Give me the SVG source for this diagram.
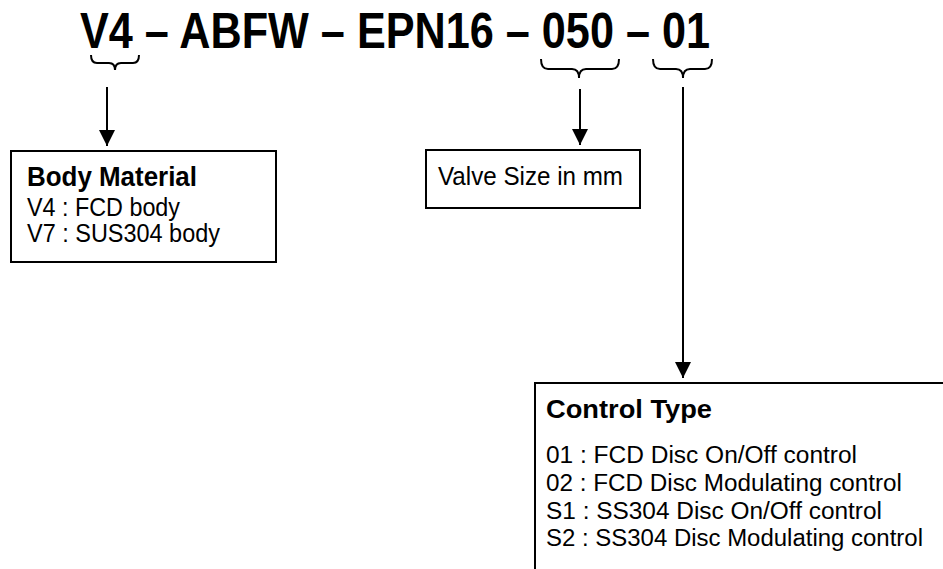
<svg xmlns="http://www.w3.org/2000/svg" width="943" height="569" viewBox="0 0 943 569">
  <defs>
    <style>
      .box { fill: #fff; stroke: #000; stroke-width: 2; }
      .t { font-family: "Liberation Sans", Arial, sans-serif; fill: #000; }
      .b { font-weight: bold; }
      .conn { fill: none; stroke: #000; stroke-width: 2; }
      .brace { fill: none; stroke: #000; stroke-width: 2; }
    </style>
    <marker id="ah" markerUnits="userSpaceOnUse" markerWidth="16" markerHeight="16" viewBox="0 0 16 16" refX="16" refY="8" orient="auto">
      <path d="M0,0 L16,8 L0,16 Z" fill="#000"/>
    </marker>
  </defs>
  <rect width="943" height="569" fill="#fff"/>

  <text class="t b" x="80" y="48" font-size="50" textLength="630" lengthAdjust="spacingAndGlyphs">V4 – ABFW – EPN16 – 050 – 01</text>

  <g id="braces">
    <path class="brace" d="M91,55 Q91,63 97,63 L109,63 Q115,63 115,70 Q115,63 121,63 L133,63 Q139,63 139,55"/>
    <path class="brace" d="M541,59 Q541,69 548,69 L572,69 Q579,69 579,78 Q579,69 586,69 L612,69 Q619,69 619,59"/>
    <path class="brace" d="M653,59 Q653,69 660,69 L676,69 Q683,69 683,78 Q683,69 690,69 L705,69 Q712,69 712,59"/>
  </g>

  <g id="connectors">
    <line class="conn" x1="107" y1="87" x2="107" y2="146" marker-end="url(#ah)"/>
    <line class="conn" x1="580" y1="89" x2="580" y2="145" marker-end="url(#ah)"/>
    <line class="conn" x1="683" y1="87" x2="683" y2="378" marker-end="url(#ah)"/>
  </g>

  <g id="body-material">
    <rect class="box" x="11" y="151" width="265" height="111"/>
    <text class="t b" x="27" y="186" font-size="27" textLength="170" lengthAdjust="spacingAndGlyphs">Body Material</text>
    <text class="t" x="27" y="216" font-size="25" textLength="153" lengthAdjust="spacingAndGlyphs">V4 : FCD body</text>
    <text class="t" x="27" y="242" font-size="25" textLength="193" lengthAdjust="spacingAndGlyphs">V7 : SUS304 body</text>
  </g>

  <g id="valve-size">
    <rect class="box" x="426" y="150" width="214" height="58"/>
    <text class="t" x="438" y="185" font-size="26" textLength="185" lengthAdjust="spacingAndGlyphs">Valve Size in mm</text>
  </g>

  <g id="control-type">
    <rect class="box" x="535" y="383" width="420" height="200"/>
    <text class="t b" x="546" y="418" font-size="25" textLength="166" lengthAdjust="spacingAndGlyphs">Control Type</text>
    <text class="t" x="546" y="463" font-size="23" textLength="311" lengthAdjust="spacingAndGlyphs">01 : FCD Disc On/Off control</text>
    <text class="t" x="546" y="491" font-size="23" textLength="356" lengthAdjust="spacingAndGlyphs">02 : FCD Disc Modulating control</text>
    <text class="t" x="546" y="519" font-size="23" textLength="336" lengthAdjust="spacingAndGlyphs">S1 : SS304 Disc On/Off control</text>
    <text class="t" x="546" y="546" font-size="23" textLength="377" lengthAdjust="spacingAndGlyphs">S2 : SS304 Disc Modulating control</text>
  </g>
</svg>
